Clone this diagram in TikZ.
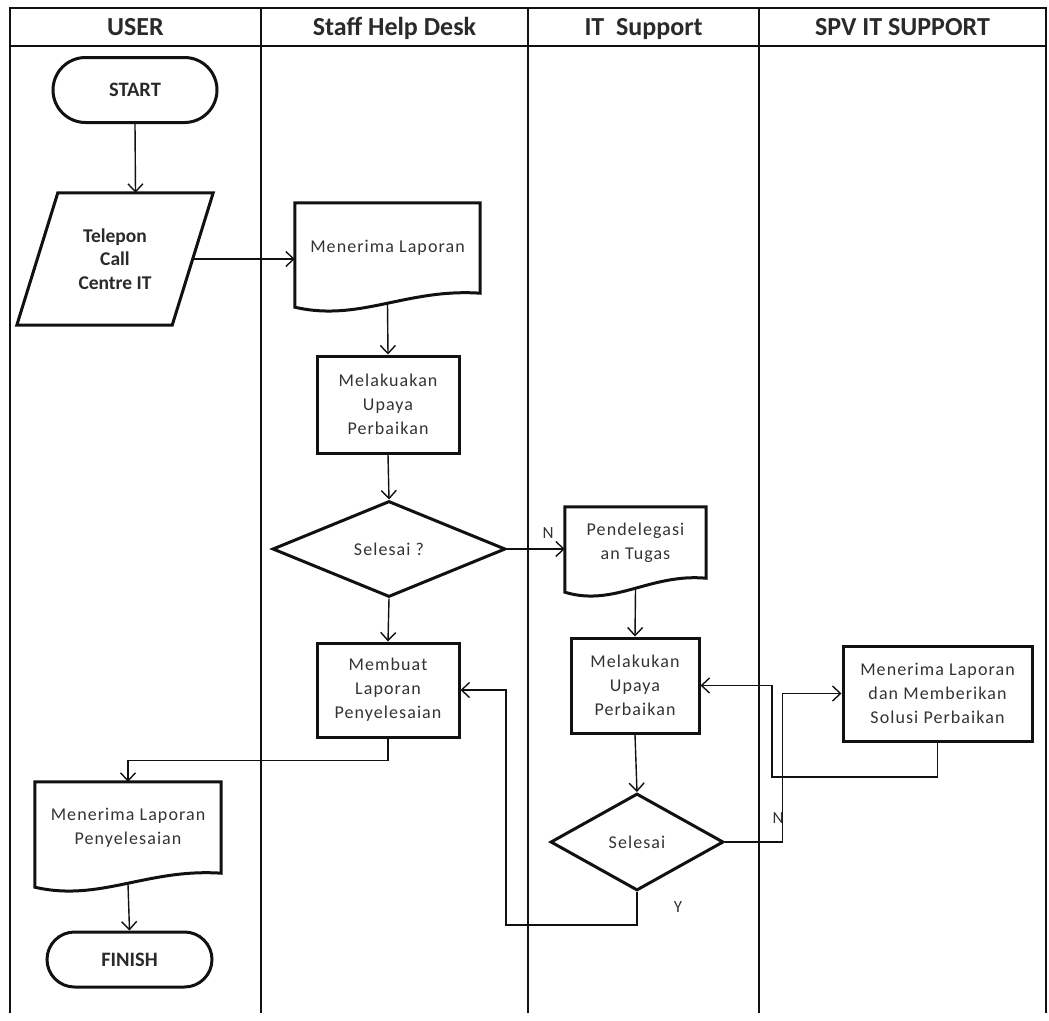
\documentclass[tikz,border=0pt]{standalone}
\usepackage{fontspec}
\setmainfont{Carlito}
\newfontfamily\bodyfont[LetterSpace=6]{Carlito}
\usetikzlibrary{shapes.geometric,shapes.misc,arrows.meta,calc}

\definecolor{inkline}{HTML}{111111}
\definecolor{labelgray}{HTML}{333333}
\definecolor{textdark}{HTML}{2A2A2A}

\tikzset{
  boxline/.style={line width=3pt, draw=inkline, line join=miter},
  bodytext/.style={font=\bodyfont\fontsize{18}{24}\selectfont, text=labelgray, align=center},
  procbox/.style={rectangle, boxline, bodytext, inner sep=0pt},
  termbox/.style={rounded rectangle, boxline, inner sep=0pt,
    font=\bfseries\fontsize{20.5}{24}\selectfont, text=textdark},
  iobody/.style={rectangle, draw=none, inner sep=0pt, align=center,
    font=\bfseries\fontsize{19.5}{23.5}\selectfont, text=textdark},
  docbody/.style={rectangle, draw=none, inner sep=0pt, bodytext},
  decbox/.style={diamond, boxline, inner sep=0pt, bodytext},
  flow/.style={line width=1.4pt, draw=inkline,
    -{Straight Barb[length=8pt,width=15pt,line width=1.4pt]}},
  lane/.style={line width=1.4pt, draw=inkline},
  lanehead/.style={anchor=base, font=\bfseries\fontsize{26}{30}\selectfont, text=textdark},
  flowlabel/.style={font=\bodyfont\fontsize{17}{20}\selectfont, text=labelgray},
}

% document symbol: straight top and sides, wavy bottom edge
\newcommand\docoutline[1]{%
  \draw[boxline] (#1.north west) -- (#1.north east) -- (#1.south east)
    .. controls ($(#1.south west)!0.6!(#1.south east)+(0,-5)$)
           and ($(#1.south west)!0.35!(#1.south east)+(0,29)$) ..
    ($(#1.south west)+(0,14)$) -- cycle;
  \coordinate (#1-w) at ($(#1.south)+(0,11)$);}

% input/output symbol: parallelogram leaning to the right
\newcommand\iooutline[2]{%
  \draw[boxline] ($(#1.north west)+(#2,0)$) -- (#1.north east)
    -- ($(#1.south east)+(-#2,0)$) -- (#1.south west) -- cycle;
  \coordinate (#1-in) at ($(#1.north)+(#2/2,0)$);
  \coordinate (#1-out) at ($(#1.east)+(-#2/2,0)$);}

\begin{document}
\begin{tikzpicture}[x=1pt,y=-1pt]
\useasboundingbox (0,0) rectangle (1049,1020);

% swimlane frame
\draw[lane] (10,1013) -- (10,8) -- (1046,8) -- (1046,1013);
\draw[lane] (10,46) -- (1046,46);
\draw[lane] (261,8) -- (261,1013);
\draw[lane] (528,8) -- (528,1013);
\draw[lane] (759,8) -- (759,1013);

\node[lanehead] (hUser) at (135.5,35.5) {USER};
\node[lanehead] (hDesk) at (394.5,35.5) {Staff Help Desk};
\node[lanehead] (hIT)   at (643.5,35.5) {IT\ \ Support};
\node[lanehead] (hSpv)  at (902.5,35.5) {SPV IT SUPPORT};

% USER lane
\node[termbox, minimum width=164pt, minimum height=65pt] (start) at (135,90) {START};
\node[iobody, minimum width=196pt, minimum height=132pt] (tel) at (115,259)
  {Telepon\\Call\\Centre IT};
\iooutline{tel}{41}
\node[docbody, minimum width=186pt, minimum height=91pt] (mlp) at (128,827.5)
  {Menerima Laporan\\Penyelesaian};
\docoutline{mlp}
\node[termbox, minimum width=165pt, minimum height=55pt] (fin) at (129.5,959.5) {FINISH};

% Staff Help Desk lane
\node[docbody, minimum width=185pt, minimum height=90pt] (men) at (387.5,248)
  {Menerima Laporan};
\docoutline{men}
\node[procbox, minimum width=142pt, minimum height=97pt] (mel) at (388,404.5)
  {Melakuakan\\Upaya\\Perbaikan};
\node[decbox, minimum width=233pt, minimum height=96pt] (dec1) at (389,549) {Selesai ?};
\node[procbox, minimum width=142pt, minimum height=94pt] (mem) at (388,690)
  {Membuat\\Laporan\\Penyelesaian};

% IT Support lane
\node[docbody, minimum width=141pt, minimum height=71pt] (pen) at (635.5,542.5)
  {Pendelegasi\\an Tugas};
\docoutline{pen}
\node[procbox, minimum width=128pt, minimum height=95pt] (mk) at (635,685.5)
  {Melakukan\\Upaya\\Perbaikan};
\node[decbox, minimum width=173pt, minimum height=97pt] (dec2) at (637,842) {Selesai};

% SPV IT SUPPORT lane
\node[procbox, minimum width=189pt, minimum height=95pt] (spv) at (937.5,693.5)
  {Menerima Laporan\\dan Memberikan\\Solusi Perbaikan};

% bend points of the routed connectors
\coordinate (ybend) at (506,925);
\coordinate (rbend) at (772,777);

% connectors
\draw[flow] (start.south) -- (tel-in);
\draw[flow] (tel-out) -- (tel-out -| men.west);
\draw[flow] (men-w) -- (mel.north);
\draw[flow] (mel.south) -- (dec1.north);
\draw[flow] (dec1.south) -- (mem.north);
\draw[flow] (dec1.east) -- (dec1.east -| pen.west);
\draw[flow] (pen-w) -- (mk.north);
\draw[flow] (mk.south) -- (dec2.north);
\draw[flow] (dec2.south) |- (ybend) |- (mem.east);
\draw[flow] (dec2.east) -| ($(spv.west)+(-59,0)$) -- (spv.west);
\draw[flow] (spv.south) |- (rbend) |- (mk.east);
\draw[flow] (mem.south) -- ++(0,22) -| (mlp.north);
\draw[flow] (mlp-w) -- (fin.north);

% branch labels
\node[flowlabel] (lblN1) at (548,533) {N};
\node[flowlabel] (lblN2) at (778,818) {N};
\node[flowlabel] (lblY)  at (678,907) {Y};
\end{tikzpicture}
\end{document}
